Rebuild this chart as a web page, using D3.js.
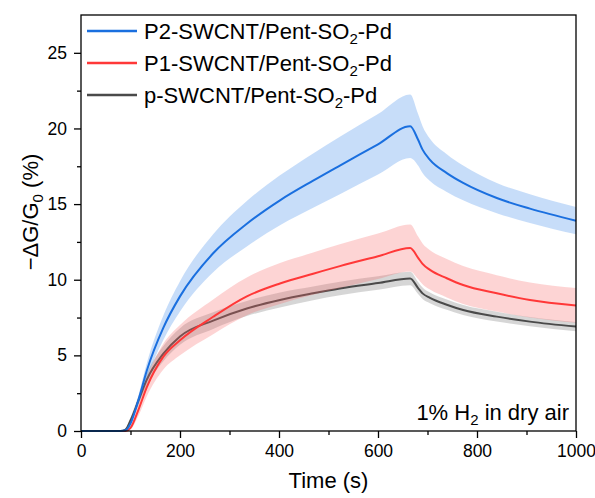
<!DOCTYPE html>
<html><head><meta charset="utf-8">
<script src="https://cdn.jsdelivr.net/npm/d3@7"></script>
<style>
body{margin:0;background:#fff;}
text{font-family:"Liberation Sans",Arial,sans-serif;fill:#000;}
</style></head>
<body><svg id="c" width="595" height="498"></svg>
<script>
// ---- data ----
const time   = [0, 80, 90, 100, 116, 133, 166, 200, 267, 335, 402, 469, 523, 600, 665, 681, 690, 705, 739, 772, 840, 907, 1000];
const p2Mean = [0, 0, 0.05, 0.5, 2.05, 4.0, 6.8, 8.9, 11.75, 13.7, 15.25, 16.55, 17.55, 18.95, 20.15, 19.25, 18.6, 17.92, 17.05, 16.4, 15.4, 14.7, 13.9];
const p2Err  = [0, 0, 0.02, 0.1, 0.3, 0.5, 0.8, 1.0, 1.25, 1.5, 1.65, 1.8, 1.9, 2.0, 2.1, 1.7, 1.55, 1.4, 1.25, 1.15, 1.0, 0.95, 0.9];
const p1Mean = [0, 0, 0, 0.2, 1.4, 2.9, 4.9, 6.0, 7.55, 8.9, 9.75, 10.4, 10.9, 11.55, 12.1, 11.45, 11.05, 10.65, 10.1, 9.65, 9.1, 8.66, 8.3];
const p1Err  = [0, 0, 0, 0.1, 0.4, 0.6, 0.85, 1.0, 1.15, 1.25, 1.35, 1.4, 1.45, 1.5, 1.55, 1.4, 1.35, 1.3, 1.27, 1.25, 1.2, 1.15, 1.15];
const pMean  = [0, 0, 0.1, 0.7, 2.0, 3.4, 5.1, 6.25, 7.3, 8.1, 8.66, 9.1, 9.42, 9.78, 10.08, 9.45, 9.1, 8.8, 8.35, 8.0, 7.56, 7.23, 6.9];
const pErr   = [0, 0, 0.05, 0.2, 0.3, 0.4, 0.5, 0.55, 0.55, 0.5, 0.5, 0.45, 0.45, 0.45, 0.45, 0.4, 0.38, 0.35, 0.34, 0.33, 0.32, 0.3, 0.3];
const xTicks = [0, 200, 400, 600, 800, 1000];
const yTicks = [0, 5, 10, 15, 20, 25];
const legendLabels = [["P2-SWCNT/Pent-SO", "2", "-Pd"], ["P1-SWCNT/Pent-SO", "2", "-Pd"], ["p-SWCNT/Pent-SO", "2", "-Pd"]];

const series = [
  {name: "p", mean: pMean, err: pErr, line: "#4a4a4a", fill: "rgba(120,120,120,0.3)"},
  {name: "P1", mean: p1Mean, err: p1Err, line: "#ff3838", fill: "rgba(248,100,100,0.28)"},
  {name: "P2", mean: p2Mean, err: p2Err, line: "#1a6fdf", fill: "rgba(30,120,230,0.25)"}
];

const svg = d3.select("#c");
const L = 81, R = 576, T = 15, B = 431;
const x = d3.scaleLinear().domain([0, 1000]).range([L, R]);
const y = d3.scaleLinear().domain([0, 27.5]).range([B, T]);

const g = svg.append("g");
series.forEach(s => {
  const pts = time.map((t, i) => ({t, m: s.mean[i], e: s.err[i]}));
  g.append("path").datum(pts)
    .attr("fill", s.fill).attr("stroke", "none")
    .attr("d", d3.area().x(d => x(d.t)).y0(d => y(d.m - d.e)).y1(d => y(d.m + d.e)).curve(d3.curveMonotoneX));
  g.append("path").datum(pts)
    .attr("fill", "none").attr("stroke", s.line).attr("stroke-width", 2)
    .attr("d", d3.line().x(d => x(d.t)).y(d => y(d.m)).curve(d3.curveMonotoneX));
});

// axes
const xAx = svg.append("g").attr("transform", `translate(0,${B})`)
  .call(d3.axisBottom(x).tickValues(xTicks).tickSize(7).tickPadding(7).tickFormat(d3.format("d")));
const xMin = svg.append("g").attr("transform", `translate(0,${B})`)
  .call(d3.axisBottom(x).tickValues([100, 300, 500, 700, 900]).tickSize(4).tickFormat(""));
const yAx = svg.append("g").attr("transform", `translate(${L},0)`)
  .call(d3.axisLeft(y).tickValues(yTicks).tickSize(7).tickPadding(7).tickFormat(d3.format("d")));
const yMin = svg.append("g").attr("transform", `translate(${L},0)`)
  .call(d3.axisLeft(y).tickValues([2.5, 7.5, 12.5, 17.5, 22.5]).tickSize(4).tickFormat(""));
[xAx, xMin, yAx, yMin].forEach(a => {
  a.selectAll(".domain").remove();
  a.selectAll("line").attr("stroke", "#000").attr("stroke-width", 1.3);
  a.selectAll("text").attr("font-size", 17.5).attr("font-family", "Liberation Sans, Arial, sans-serif");
});
// frame
svg.append("rect").attr("x", L).attr("y", T).attr("width", R - L).attr("height", B - T)
  .attr("fill", "none").attr("stroke", "#000").attr("stroke-width", 1.3);

// axis titles
svg.append("text").attr("x", x(500)).attr("y", 488).attr("text-anchor", "middle")
  .attr("font-size", 22).text("Time (s)");
const yt = svg.append("text").attr("transform", `translate(38,212) rotate(-90)`)
  .attr("text-anchor", "middle").attr("font-size", 22);
yt.append("tspan").text("\u2212\u0394G/G");
yt.append("tspan").attr("font-size", 15).attr("dy", 5).text("0");
yt.append("tspan").attr("dy", -5).text(" (%)");

// legend
const legOrder = [2, 1, 0];
legOrder.forEach((si, k) => {
  const s = series[si];
  const cy = 31 + k * 32;
  svg.append("line").attr("x1", 87).attr("x2", 137).attr("y1", cy).attr("y2", cy)
    .attr("stroke", s.line).attr("stroke-width", 2.5);
  const t = svg.append("text").attr("x", 144).attr("y", cy + 8).attr("font-size", 22);
  const lab = legendLabels[k];
  t.append("tspan").text(lab[0]);
  t.append("tspan").attr("font-size", 15).attr("dy", 5).text(lab[1]);
  t.append("tspan").attr("dy", -5).text(lab[2]);
});

// annotation
const an = svg.append("text").attr("x", 569).attr("y", 420).attr("text-anchor", "end").attr("font-size", 22);
an.append("tspan").text("1% H");
an.append("tspan").attr("font-size", 15).attr("dy", 5).text("2");
an.append("tspan").attr("dy", -5).text(" in dry air");
</script></body></html>
